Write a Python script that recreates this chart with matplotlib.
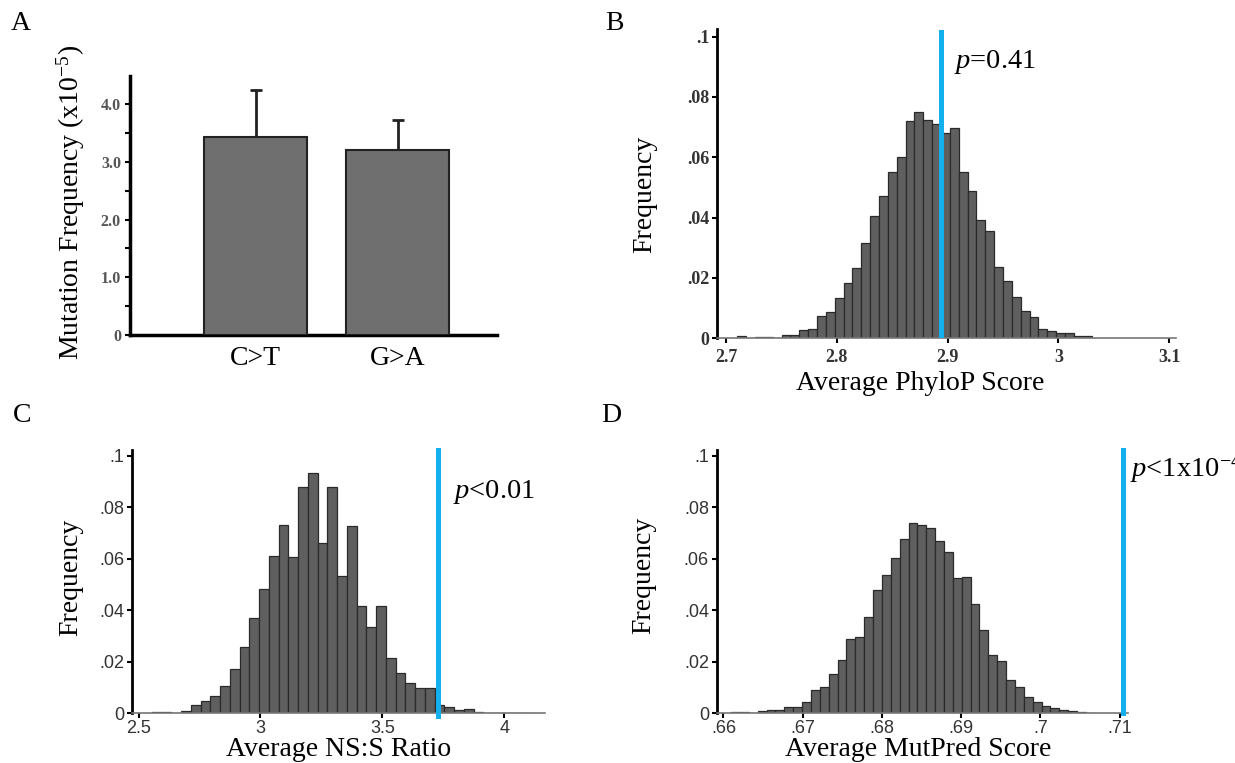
import numpy as np
import matplotlib
matplotlib.use("Agg")
import matplotlib.pyplot as plt

plt.rcParams['mathtext.fontset'] = 'custom'
plt.rcParams['mathtext.rm'] = 'Liberation Serif'
plt.rcParams['mathtext.it'] = 'Liberation Serif:italic'
plt.rcParams['mathtext.bf'] = 'Liberation Serif:bold'

SERIF = 'Liberation Serif'
SANS = 'Liberation Sans'
BLUE = '#14b0ee'

# Panel A: mutation frequency (x10^-5)
mut_types = ['C>T', 'G>A']
mut_freq = [3.44, 3.20]
mut_err = [0.81, 0.53]

# Panel B: average PhyloP score null distribution
phylop_start, phylop_bw = 2.71, 0.008
phylop_freq = [0.0006, 0.0001, 0.0003, 0.0005, 0.0002, 0.0011, 0.0010, 0.0027,
               0.0032, 0.0073, 0.0088, 0.0133, 0.0182, 0.0233, 0.0317, 0.0406,
               0.0471, 0.0550, 0.0600, 0.0721, 0.0749, 0.0724, 0.0711, 0.0680,
               0.0697, 0.0550, 0.0488, 0.0393, 0.0354, 0.0236, 0.0191, 0.0136,
               0.0091, 0.0071, 0.0032, 0.0024, 0.0017, 0.0018, 0.0008, 0.0006]
phylop_obs = 2.894

# Panel C: average NS:S ratio null distribution
nss_start, nss_bw = 2.555, 0.04
nss_freq = [0.0004, 0.0006, 0.0003, 0.0010, 0.0031, 0.0049, 0.0066, 0.0108,
            0.0174, 0.0258, 0.0369, 0.0484, 0.0613, 0.0730, 0.0608, 0.0878,
            0.0932, 0.0661, 0.0879, 0.0535, 0.0727, 0.0418, 0.0334, 0.0418,
            0.0214, 0.0158, 0.0116, 0.0100, 0.0100, 0.0031, 0.0026, 0.0012,
            0.0016, 0.0006, 0.0000, 0.0002, 0.0003, 0.0002, 0.0001]
nss_obs = 3.729

# Panel D: average MutPred score null distribution
mp_start, mp_bw = 0.66096, 0.00112
mp_freq = [0.0005, 0.0005, 0.0002, 0.0008, 0.0012, 0.0012, 0.0026, 0.0026,
           0.0043, 0.0091, 0.0103, 0.0153, 0.0208, 0.0288, 0.0297, 0.0374,
           0.0480, 0.0537, 0.0602, 0.0678, 0.0739, 0.0730, 0.0719, 0.0669,
           0.0625, 0.0527, 0.0531, 0.0425, 0.0323, 0.0227, 0.0204, 0.0129,
           0.0104, 0.0064, 0.0042, 0.0029, 0.0020, 0.0011, 0.0007, 0.0004,
           0.0002]
mp_obs = 0.7105

freq_ticks = [0, 0.02, 0.04, 0.06, 0.08, 0.1]
freq_labels = ['0', '.02', '.04', '.06', '.08', '.1']

W, H = 1235, 763
fig = plt.figure(figsize=(W / 100, H / 100), dpi=100)


def px_axes(left, top, right, bottom):
    return fig.add_axes([left / W, (H - bottom) / H, (right - left) / W, (bottom - top) / H])


def style_hist(ax, tick_font, tick_size, bold, xpad):
    for s in ['top', 'right']:
        ax.spines[s].set_visible(False)
    ax.spines['left'].set_linewidth(2.0)
    ax.spines['left'].set_color('black')
    ax.spines['bottom'].set_linewidth(1.2)
    ax.spines['bottom'].set_color('#777777')
    ax.set_yticks(freq_ticks)
    ax.set_yticklabels(freq_labels)
    ax.tick_params(axis='both', length=3.5, width=1.5, color='black',
                   labelcolor='#333333', labelsize=tick_size)
    ax.tick_params(axis='y', pad=2)
    ax.tick_params(axis='x', pad=xpad)
    for lab in ax.get_xticklabels() + ax.get_yticklabels():
        lab.set_family(tick_font)
        if bold:
            lab.set_fontweight('bold')


def draw_hist(ax, start, bw, freqs):
    lefts = start + bw * np.arange(len(freqs))
    ax.bar(lefts, freqs, width=bw, align='edge', color='#5f5f5f',
           edgecolor='#2a2a2a', linewidth=0.9, zorder=2)


# ---- A ----
axA = px_axes(130, 76, 497, 335)
axA.bar(range(len(mut_types)), mut_freq, width=0.723, color='#6f6f6f',
        edgecolor='#222222', linewidth=1.5, zorder=3)
axA.errorbar(range(len(mut_types)), mut_freq, yerr=[[0, 0], mut_err], fmt='none',
             ecolor='#222222', elinewidth=2, capsize=4, capthick=2, zorder=2)
axA.set_xlim(-0.881, 1.695)
axA.set_ylim(0, 4.49)
axA.set_yticks([0, 1, 2, 3, 4])
axA.set_yticklabels(['0', '1.0', '2.0', '3.0', '4.0'])
axA.set_yticks([0.5, 1.5, 2.5, 3.5], minor=True)
axA.set_xticks(range(len(mut_types)))
axA.set_xticklabels(mut_types, family=SERIF, fontsize=20)
axA.tick_params(axis='x', length=0, pad=8)
axA.tick_params(axis='y', which='both', length=3.5, width=1.5, pad=3,
                labelsize=11.5, labelcolor='#555555')
for lab in axA.get_yticklabels():
    lab.set_family(SERIF)
    lab.set_fontweight('bold')
for s in ['top', 'right']:
    axA.spines[s].set_visible(False)
for s in ['left', 'bottom']:
    axA.spines[s].set_linewidth(2.5)

# ---- B ----
axB = px_axes(717, 29.3, 1176, 338.3)
draw_hist(axB, phylop_start, phylop_bw, phylop_freq)
axB.axvline(phylop_obs, ymin=0, ymax=0.99, color=BLUE, linewidth=3.6, zorder=4)
axB.set_xlim(2.6917, 3.1063)
axB.set_ylim(0, 0.1024)
axB.set_xticks([2.7, 2.8, 2.9, 3.0, 3.1])
axB.set_xticklabels(['2.7', '2.8', '2.9', '3', '3.1'])
style_hist(axB, SERIF, 13, True, 4)
axB.text(2.906, 0.0917, r'$p$=0.41', family=SERIF, fontsize=20.5, va='center', ha='left')

# ---- C ----
axC = px_axes(132, 450, 545.3, 713.3)
draw_hist(axC, nss_start, nss_bw, nss_freq)
axC.axvline(nss_obs, ymin=-0.01, ymax=1.0, color=BLUE, linewidth=3.6, zorder=4, clip_on=False)
axC.set_xlim(2.4733, 4.1686)
axC.set_ylim(0, 0.1023)
axC.set_xticks([2.5, 3, 3.5, 4])
axC.set_xticklabels(['2.5', '3', '3.5', '4'])
style_hist(axC, SANS, 13, False, 1.5)
axC.text(3.792, 0.0861, r'$p$<0.01', family=SERIF, fontsize=20.5, va='center', ha='left')

# ---- D ----
axD = px_axes(716.6, 450, 1128, 713.3)
draw_hist(axD, mp_start, mp_bw, mp_freq)
axD.axvline(mp_obs, ymin=0, ymax=1.0, color=BLUE, linewidth=3.6, zorder=4, clip_on=False)
axD.set_xlim(0.65913, 0.71107)
axD.set_ylim(0, 0.1023)
axD.set_xticks([0.66, 0.67, 0.68, 0.69, 0.70, 0.71])
axD.set_xticklabels(['.66', '.67', '.68', '.69', '.7', '.71'])
style_hist(axD, SANS, 13, False, 1.5)
axD.text(0.71133, 0.0952, r'$p$<1x10$^{-4}$', family=SERIF, fontsize=20.5,
         va='center', ha='left', clip_on=False)

# ---- axis titles and panel letters ----
def ftext(x, y, s, va='center', **kw):
    fig.text(x / W, 1 - y / H, s, family=SERIF, fontsize=20, ha='center', va=va, **kw)

ftext(71, 202, r'Mutation Frequency (x10$^{-5}$)', rotation=90)
ftext(645, 194, 'Frequency', rotation=90)
ftext(71, 577, 'Frequency', rotation=90)
ftext(644, 575, 'Frequency', rotation=90)
ftext(920, 390, 'Average PhyloP Score', va='baseline')
ftext(339, 756, 'Average NS:S Ratio', va='baseline')
ftext(918, 756, 'Average MutPred Score', va='baseline')
ftext(21, 24, 'A')
ftext(614, 24, 'B')
ftext(22, 415, 'C')
ftext(611, 415, 'D')

fig.savefig('out.png', dpi=100)
